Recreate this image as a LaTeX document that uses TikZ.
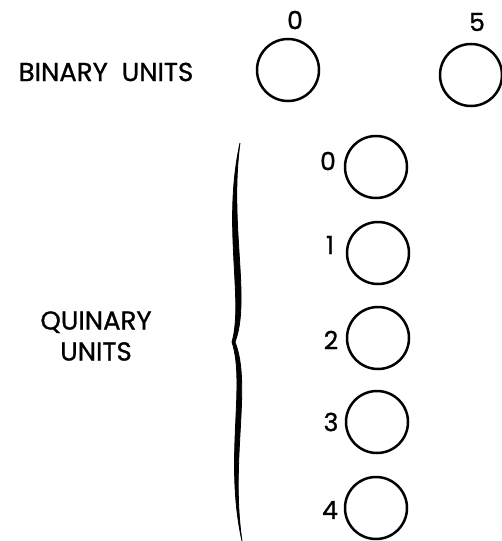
\documentclass[tikz,border=0pt]{standalone}
\usepackage{fontspec}
\setmainfont{Poppins}[FakeBold=1]
\begin{document}
\begin{tikzpicture}[x=1pt, y=-1pt,
  u/.style={circle, draw, line width=2.5pt, minimum size=62pt, inner sep=0pt},
  d/.style={font=\fontsize{25}{30}\selectfont, inner sep=0pt},
  t/.style={font=\fontsize{26}{31}\selectfont, align=center, inner sep=0pt}
]
\useasboundingbox (0,0) rectangle (502,541);

% binary units
\node[t] (bin) at (106,72) {BINARY\ \ UNITS};
\node[u] (b0) at (288,70) {};
\node[u] (b5) at (471,75) {};
\node[d] (lb0) at (295,20) {0};
\node[d] (lb5) at (477,22) {5};

% quinary units
\node[t] (qui) at (96,336) {QUINARY\\UNITS};
\node[u] (q0) at (376,167) {};
\node[u] (q1) at (378,253) {};
\node[u] (q2) at (378,338) {};
\node[u] (q3) at (377,422) {};
\node[u] (q4) at (376,508) {};
\node[d] (lq0) at (328,161) {0};
\node[d] (lq1) at (330,245) {1};
\node[d] (lq2) at (331,340) {2};
\node[d] (lq3) at (331,422) {3};
\node[d] (lq4) at (330,510) {4};

% brace
\filldraw[line width=0.8pt]
  (240,143) .. controls (222,225) and (244,300) .. (232,342)
  .. controls (246,385) and (224,460) .. (242,541)
  .. controls (230,460) and (252,385) .. (235,342)
  .. controls (251,300) and (229,225) .. (240,143) -- cycle;
\end{tikzpicture}
\end{document}
